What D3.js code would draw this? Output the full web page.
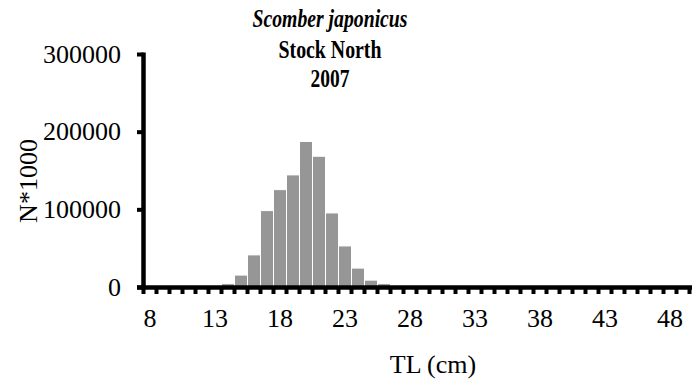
<!DOCTYPE html>
<html><head><meta charset="utf-8">
<script src="https://cdn.jsdelivr.net/npm/d3@7"></script>
<style>
html,body{margin:0;padding:0;background:#fff;}
svg{display:block;font-family:"Liberation Serif","Times New Roman",serif;}
</style></head>
<body><div id="chart"></div>
<script>
const lengths = d3.range(8, 50); // TL (cm) classes 8..49
const values = [0,0,0,0,0,0,5000,16000,42000,99000,126000,145000,188000,169000,96000,53500,25000,9500,5000,0,0,0,0,0,0,0,0,0,0,0,0,0,0,0,0,0,0,0,0,0,0,0];
const yTicks = [0,100000,200000,300000];
const xLabelled = [8,13,18,23,28,33,38,43,48];
const titleLines = ["Scomber japonicus","Stock North","2007"];

const W=697,H=387;
const svg=d3.select("#chart").append("svg").attr("width",W).attr("height",H);
const x=d3.scaleBand().domain(lengths).range([143.5,689.5]).padding(0);
const y=d3.scaleLinear().domain([0,300000]).range([287.5,54.5]);

// bars
svg.append("g").selectAll("rect").data(lengths.map((l,i)=>({l,v:values[i]})).filter(d=>d.v>0))
 .join("rect")
 .attr("x",d=>x(d.l)).attr("width",x.bandwidth())
 .attr("y",d=>y(d.v)).attr("height",d=>y(0)-y(d.v))
 .attr("fill","#969696").attr("stroke","#fff").attr("stroke-width",1);

// y axis
const yAxis=svg.append("g");
yAxis.append("line").attr("x1",x.range()[0]).attr("x2",x.range()[0]).attr("y1",y(300000)-2).attr("y2",y(0)).attr("stroke","#000").attr("stroke-width",4.5);
yAxis.selectAll("line.t").data(yTicks).join("line").attr("class","t")
 .attr("x1",137).attr("x2",x.range()[0]).attr("y1",d=>y(d)).attr("y2",d=>y(d)).attr("stroke","#000").attr("stroke-width",4);
yAxis.selectAll("text").data(yTicks).join("text")
 .attr("x",121).attr("y",d=>y(d)+8).attr("text-anchor","end")
 .attr("font-size",26).text(d=>d);

// x axis
const xAxis=svg.append("g");
const bounds=lengths.map(l=>x(l)).concat([x.range()[1]]);
xAxis.selectAll("line.t").data(bounds).join("line").attr("class","t")
 .attr("x1",d=>d).attr("x2",d=>d).attr("y1",y(0)).attr("y2",294).attr("stroke","#000").attr("stroke-width",4);
xAxis.append("line").attr("x1",137).attr("x2",692).attr("y1",y(0)).attr("y2",y(0)).attr("stroke","#000").attr("stroke-width",4.5);
xAxis.selectAll("text").data(xLabelled).join("text")
 .attr("x",d=>x(d)+x.bandwidth()/2).attr("y",327).attr("text-anchor","middle")
 .attr("font-size",26).text(d=>d);

// axis titles
svg.append("text").attr("x",433).attr("y",373).attr("text-anchor","middle").attr("font-size",26).text("TL (cm)");
svg.append("text").attr("transform","translate(37,181) rotate(-90)").attr("text-anchor","middle").attr("font-size",26).text("N*1000");

// title
const tl=[{t:titleLines[0],yb:27,w:155,it:true},{t:titleLines[1],yb:58,w:103,it:false},{t:titleLines[2],yb:87,w:39,it:false}];
svg.selectAll("text.title").data(tl).join("text").attr("class","title")
 .attr("x",d=>330-d.w/2).attr("y",d=>d.yb).attr("font-size",25).attr("font-weight","bold")
 .attr("font-style",d=>d.it?"italic":"normal")
 .attr("textLength",d=>d.w).attr("lengthAdjust","spacingAndGlyphs").text(d=>d.t);
</script></body></html>
